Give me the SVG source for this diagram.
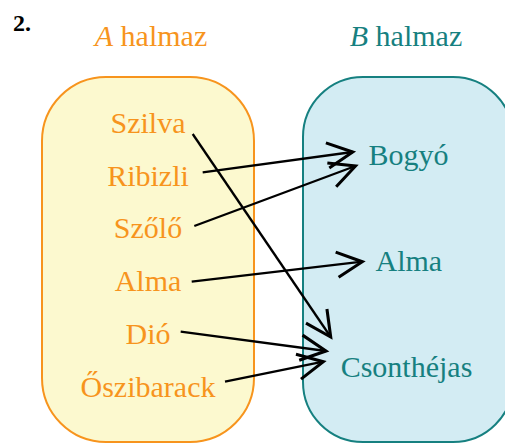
<svg xmlns="http://www.w3.org/2000/svg" width="505" height="443" viewBox="0 0 505 443">
<defs>
<style>
.a{fill:#F7941D;text-anchor:middle}
.b{fill:#168080;text-anchor:middle}
.c{fill:none;stroke:#000;stroke-width:2.3}
</style>
<marker id="ah" markerUnits="userSpaceOnUse" markerWidth="40" markerHeight="40" refX="0" refY="0" viewBox="-25 -15 30 30" orient="auto" overflow="visible">
<path d="M-19,-9.5 L0,0 L-19,9.5" fill="none" stroke="#000" stroke-width="2.3"/>
</marker>
</defs>
<rect width="505" height="443" fill="#fff"/>
<g font-family="'Liberation Serif', 'DejaVu Serif', serif" font-size="30">
<text x="13" y="31" font-size="24" font-weight="bold" fill="#000">2.</text>
<text x="151" y="46" class="a"><tspan font-style="italic">A</tspan> halmaz</text>
<text x="406" y="46" class="b"><tspan font-style="italic">B</tspan> halmaz</text>
<g id="setA">
<rect x="42" y="77" width="212" height="365" rx="64" ry="64" fill="#FCF9CF" stroke="#F7941D" stroke-width="2"/>
</g>
<g id="setB">
<rect x="303" y="77" width="210" height="365" rx="60" ry="60" fill="#D3ECF3" stroke="#168080" stroke-width="2"/>
</g>
<g id="a1"><text x="148" y="133" class="a">Szilva</text></g>
<g id="a2"><text x="148" y="185.6" class="a">Ribizli</text></g>
<g id="a3"><text x="148" y="238" class="a">Szőlő</text></g>
<g id="a4"><text x="148" y="291" class="a">Alma</text></g>
<g id="a5"><text x="148" y="343.5" class="a">Dió</text></g>
<g id="a6"><text x="148" y="396.5" class="a">Őszibarack</text></g>
<g id="b1"><text x="408.5" y="164.5" class="b">Bogyó</text></g>
<g id="b2"><text x="408.8" y="270.7" class="b">Alma</text></g>
<g id="b3"><text x="406.5" y="377" class="b">Csonthéjas</text></g>
</g>
<g id="connectors" class="c">
<line x1="192.7" y1="134" x2="330.7" y2="337" marker-end="url(#ah)"/>
<line x1="202.7" y1="172.3" x2="352.7" y2="152" marker-end="url(#ah)"/>
<line x1="194.3" y1="226" x2="355.5" y2="166" marker-end="url(#ah)"/>
<line x1="191.7" y1="281.7" x2="362.3" y2="261.7" marker-end="url(#ah)"/>
<line x1="180.7" y1="331.7" x2="326" y2="351" marker-end="url(#ah)"/>
<line x1="225" y1="381.7" x2="323.3" y2="361.7" marker-end="url(#ah)"/>
</g>
</svg>
